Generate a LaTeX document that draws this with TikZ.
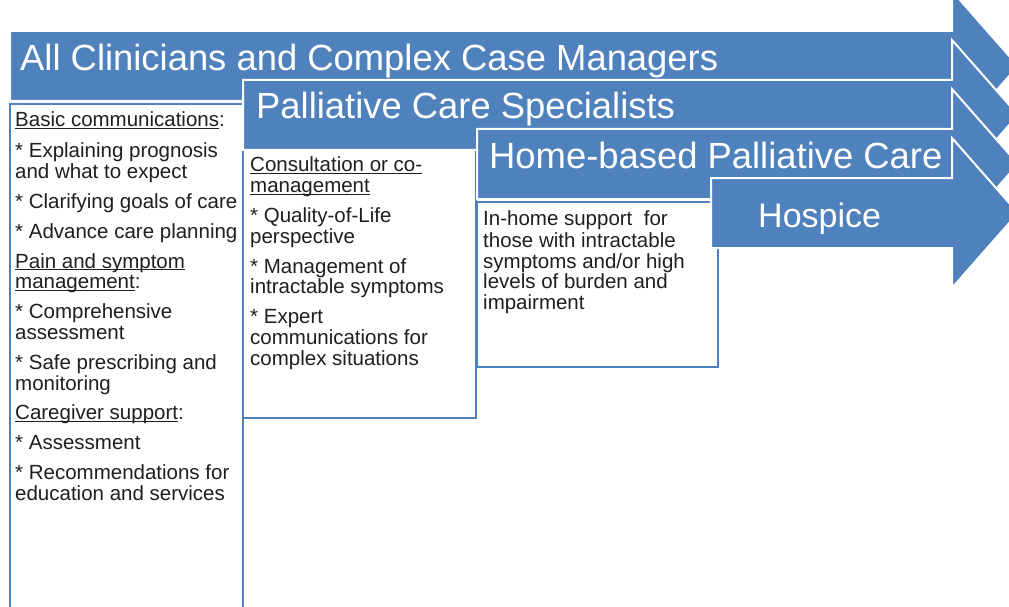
\documentclass[tikz,border=0pt]{standalone}
\usepackage{fontspec}
\setmainfont{Liberation Sans}
\definecolor{bandblue}{RGB}{79,129,189}
\newcommand{\hdline}[1]{\underline{\smash{#1}}}

\begin{document}
\begin{tikzpicture}[x=1pt,y=-1pt,line join=miter,
  band/.style={draw=white,line width=2pt,fill=bandblue},
  panel/.style={draw=bandblue,line width=2.5pt,fill=white},
  band label/.style={anchor=base west,inner sep=0,text=white,font=\fontsize{36.4}{40}\selectfont},
  panel text/.style={anchor=north west,inner sep=0,align=left,text=black!88,font=\fontsize{20.5}{20.8}\selectfont}]

\useasboundingbox (0,0) rectangle (1009,607);
\clip (0,0) rectangle (1009,607);

% white panels under the arrows
\filldraw[panel] (10,104) rectangle (243,640);
\filldraw[panel] (243,150) rectangle (476,418);
\filldraw[panel] (477,202) rectangle (718,367);

% arrows
\filldraw[band] (10,31) -- (952,31) -- (952,-9) -- (1018,66) -- (952,141) -- (952,101) -- (10,101) -- cycle;
\filldraw[band] (243,80) -- (952,80) -- (952,40) -- (1018,115) -- (952,190) -- (952,150) -- (243,150) -- cycle;
\filldraw[band] (477,129) -- (952,129) -- (952,89) -- (1018,164) -- (952,239) -- (952,199) -- (477,199) -- cycle;
\filldraw[band] (711,178) -- (952,178) -- (952,138) -- (1018,213) -- (952,288) -- (952,248) -- (711,248) -- cycle;

\node[band label] (clinicians) at (20,71) {All Clinicians and Complex Case Managers};
\node[band label] (specialists) at (256,119) {Palliative Care Specialists};
\node[band label] (homecare) at (489,168) {Home-based Palliative Care};
\node[band label,font=\fontsize{34}{38}\selectfont] (hospice) at (758,227) {Hospice};

% panel texts (top = first baseline - strut height)
\node[panel text] (basicText) at (15,112.1) {\strut\hdline{Basic communications}:\\[9pt]
  * Explaining prognosis\\ and what to expect\\[9pt]
  * Clarifying goals of care\\[9pt]
  * Advance care planning\\[9pt]
  \hdline{Pain and symptom}\\ \hdline{management}:\\[9pt]
  * Comprehensive\\ assessment\\[9pt]
  * Safe prescribing and\\ monitoring\\[9pt]
  \hdline{Caregiver support}:\\[9pt]
  * Assessment\\[9pt]
  * Recommendations for\\ education and services};

\node[panel text] (consultText) at (250,157.1) {\strut\hdline{Consultation or co-}\\ \hdline{management}\\[9pt]
  * Quality-of-Life\\ perspective\\[9pt]
  * Management of\\ intractable symptoms\\[9pt]
  * Expert\\ communications for\\ complex situations};

\node[panel text] (inhomeText) at (483,210.1) {\strut In-home support\ \ for\\ those with intractable\\ symptoms and/or high\\ levels of burden and\\ impairment};

\end{tikzpicture}
\end{document}
